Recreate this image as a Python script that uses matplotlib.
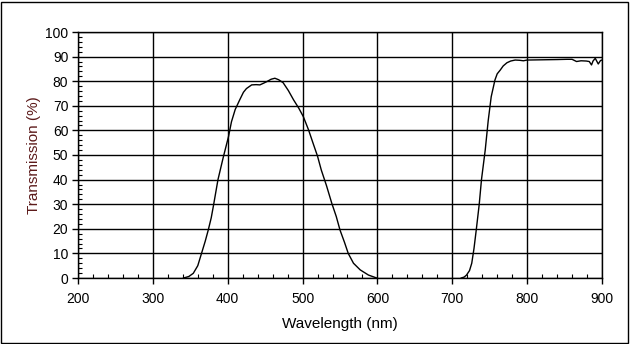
import matplotlib.pyplot as plt
from matplotlib.patches import Rectangle
from matplotlib.ticker import MultipleLocator

plt.rcParams['font.family'] = ['Liberation Sans', 'DejaVu Sans']

# blue band
blue_nm = [341, 348, 354, 360, 365, 370, 374, 378, 381, 387, 394, 401, 405, 410, 416,
           421, 425, 432, 438, 443, 448, 452, 458, 463, 468, 474, 481, 488, 495,
           501, 508, 514, 520, 525, 532, 539, 545, 550, 556, 561, 568, 577, 588, 599]
blue_t = [0, 0.6, 1.9, 5, 10, 15, 19.5, 24.5, 29.5, 40, 49, 57.4, 63.5, 68.5, 72.4,
          75.5, 77, 78.5, 78.6, 78.5, 79.2, 79.8, 80.8, 81.2, 80.6, 79.4, 76.2, 72.4, 69,
          65.6, 60.2, 54.8, 49.5, 43.9, 37.5, 30.4, 25, 19.5, 14.5, 10, 6, 3.3, 1.2, 0]

# red/NIR band
nir_nm = [712, 716, 719, 723, 726, 729, 732, 736, 739, 744, 748, 752, 757, 760,
          764, 768, 773, 778, 784, 790, 795, 800, 820, 840, 853, 860, 866, 872,
          879, 883, 886, 888, 891, 895, 898, 900]
nir_t = [0, 0.4, 1.2, 3, 6, 12, 19.5, 30, 40, 52, 64, 73.7, 80.5, 83,
         84.5, 86.2, 87.5, 88.2, 88.6, 88.5, 88.3, 88.6, 88.7, 88.8, 88.9, 88.9, 88.0, 88.3,
         88.2, 88.0, 86.6, 88.2, 89.3, 87.0, 88.4, 88.6]

fig = plt.figure(figsize=(6.3, 3.44), dpi=100)
ax = fig.add_axes([78 / 630, 66 / 344, 524 / 630, 246 / 344])

ax.plot(blue_nm, blue_t, color='black', lw=1)
ax.plot(nir_nm, nir_t, color='black', lw=1)

ax.set_xlim(200, 900)
ax.set_ylim(0, 100)
ax.xaxis.set_major_locator(MultipleLocator(100))
ax.xaxis.set_minor_locator(MultipleLocator(20))
ax.yaxis.set_major_locator(MultipleLocator(10))
ax.yaxis.set_minor_locator(MultipleLocator(2))
ax.tick_params(which='major', direction='out', length=4, width=1, labelsize=10)
ax.tick_params(axis='x', which='major', pad=6)
ax.tick_params(axis='y', which='major', pad=3)
ax.tick_params(which='minor', direction='in', length=3, width=0.8)
ax.grid(True, which='major', color='black', lw=1)
for s in ax.spines.values():
    s.set_linewidth(1)

ax.set_xlabel('Wavelength (nm)', fontsize=11, labelpad=8)
ax.set_ylabel('Transmission (%)', fontsize=11, color='#5c1a1a', labelpad=3)

fig.patches.append(Rectangle((1 / 630, 1 / 344), 627 / 630, 341 / 344,
                             transform=fig.transFigure, fill=False,
                             edgecolor='black', lw=1))

fig.savefig('out.png', dpi=100)
